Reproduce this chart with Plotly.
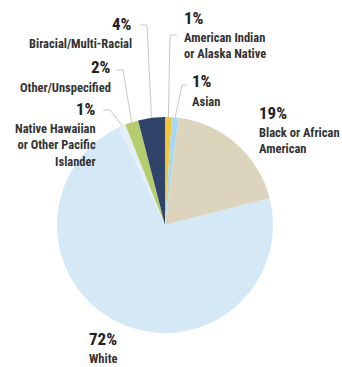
import math
import plotly.graph_objects as go

categories = ["American Indian<br>or Alaska Native", "Asian", "Black or African<br>American", "White",
              "Native Hawaiian<br>or Other Pacific<br>Islander", "Other/Unspecified", "Biracial/Multi-Racial"]
values = [1, 1, 19, 72, 1, 2, 4]
pct_labels = ["1%", "1%", "19%", "72%", "1%", "2%", "4%"]
colors = ["#F2C438", "#A9D9F2", "#DDD4BE", "#D5E8F6", "#E3EFF8", "#B5CD6E", "#2F4468"]

W, H = 342, 367
cx, cy, R = 165, 225, 108

# label placement (pixel): percent bottom, name top, anchor, elbow points
label_layout = [
    dict(x=183, pb=29, nt=29, anchor="left", elbow=[(177, 35), (170, 35)]),
    dict(x=191, pb=92, nt=93, anchor="left", elbow=[(187, 85), (182, 85)]),
    dict(x=258, pb=124, nt=124, anchor="left", elbow=None),
    dict(x=103, pb=350, nt=350, anchor="center", elbow=None),
    dict(x=97, pb=120, nt=120, anchor="right", elbow=[(103, 110), (110, 110)]),
    dict(x=112, pb=78, nt=79, anchor="right", elbow=[(116, 70), (123, 70)]),
    dict(x=133, pb=35, nt=35, anchor="right", elbow=[(140, 25), (147, 25)]),
]

def paper(x, y):
    return x / W, 1 - y / H

fig = go.Figure(go.Pie(
    labels=[c.replace("<br>", " ") for c in categories], values=values, sort=False,
    direction="clockwise", rotation=0, textinfo="none", hoverinfo="label+percent",
    marker=dict(colors=colors, line=dict(width=0)),
    domain=dict(x=[(cx - R) / W, (cx + R) / W], y=[1 - (cy + R) / H, 1 - (cy - R) / H]),
    showlegend=False,
))

font_fam = "Roboto Condensed, Liberation Sans Narrow, sans-serif"
annotations = []
shapes = []
total = sum(values)
cum = 0
for i, v in enumerate(values):
    mid = (cum + v / 2) / total
    cum += v
    L = label_layout[i]
    x, y = paper(L["x"], L["pb"])
    annotations.append(dict(x=x, y=y, xref="paper", yref="paper", text="<b>%s</b>" % pct_labels[i],
                            showarrow=False, xanchor=L["anchor"], yanchor="bottom", borderpad=0,
                            font=dict(family=font_fam, size=17, color="#222")))
    x, y = paper(L["x"], L["nt"])
    annotations.append(dict(x=x, y=y, xref="paper", yref="paper", text="<b>%s</b>" % categories[i],
                            showarrow=False, xanchor=L["anchor"], yanchor="top", borderpad=0,
                            align=L["anchor"],
                            font=dict(family=font_fam, size=12.5, color="#333")))
    if L["elbow"]:
        ang = 2 * math.pi * mid
        ex, ey = cx + R * math.sin(ang), cy - R * math.cos(ang)
        pts = L["elbow"] + [(ex, ey)]
        path = "M " + " L ".join("%f,%f" % paper(px, py) for px, py in pts)
        shapes.append(dict(type="path", path=path, xref="paper", yref="paper",
                           line=dict(color="#C8C8C8", width=1)))

fig.update_layout(width=W, height=H, margin=dict(l=0, r=0, t=0, b=0),
                  paper_bgcolor="white", plot_bgcolor="white",
                  annotations=annotations, shapes=shapes)
fig.write_html("out.html")
